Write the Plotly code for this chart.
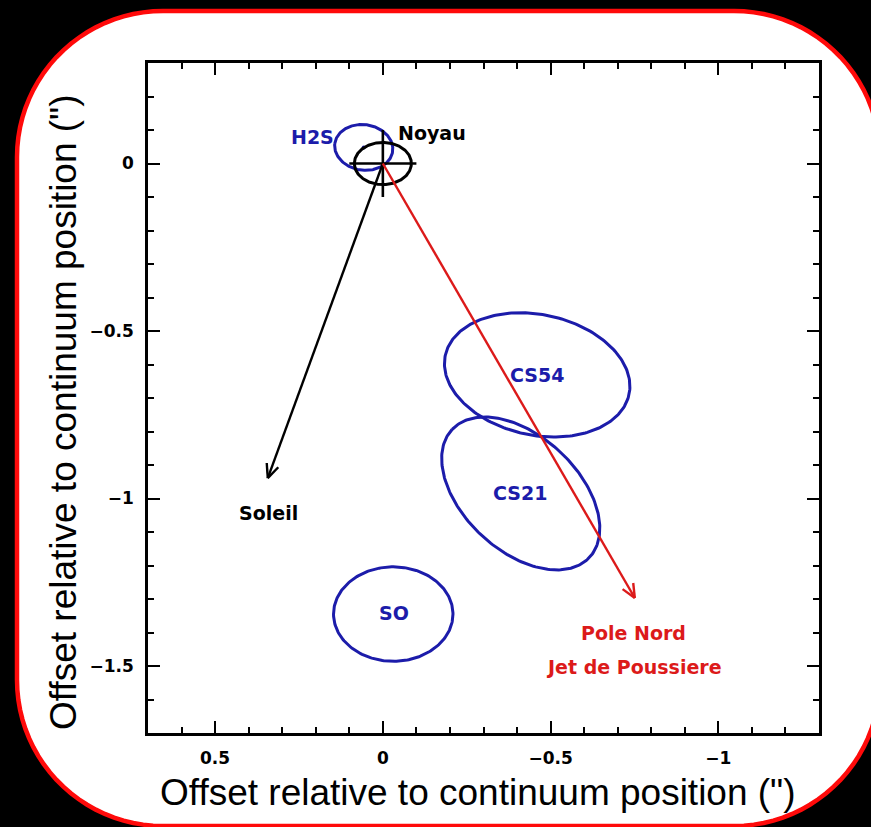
import numpy as np
import plotly.graph_objects as go

# ---- data -------------------------------------------------------------
# emission regions (offsets in arcsec): centre, semi-axes, position angle (deg)
region_names = ["H2S", "CS54", "CS21", "SO"]
region_x = [0.057, -0.46, -0.411, -0.031]
region_y = [0.048, -0.631, -0.985, -1.345]
region_a = [0.087, 0.28, 0.28, 0.178]
region_b = [0.068, 0.18, 0.171, 0.141]
region_pa = [8, 12, 43, 0]
region_label_x = [0.209, -0.459, -0.408, -0.033]
region_label_y = [0.079, -0.631, -0.984, -1.342]

# nucleus (continuum position) with its beam
nucleus_x, nucleus_y = 0.0, 0.0
nucleus_a, nucleus_b = 0.085, 0.063
cross_half = 0.1

# direction arrows from the nucleus
sun_tip = (0.343, -0.939)
pole_tip = (-0.751, -1.297)

# axes
x_range = [0.7, -1.3]
y_range = [-1.7, 0.3]
x_ticks = [0.5, 0, -0.5, -1]
y_ticks = [0, -0.5, -1, -1.5]

BLUE = "#1c1caa"
RED = "#dc1a1a"
BLACK = "#000000"

W, H = 871, 827
ML, MR, MT, MB = 148, 52, 63, 94
PW, PH = W - ML - MR, H - MT - MB


def ellipse(cx, cy, a, b, pa, n=241):
    t = np.linspace(0, 2 * np.pi, n)
    th = np.radians(pa)
    x = cx + a * np.cos(t) * np.cos(th) - b * np.sin(t) * np.sin(th)
    y = cy + a * np.cos(t) * np.sin(th) + b * np.sin(t) * np.cos(th)
    return x, y


def arrow_head(x0, y0, x1, y1, length=0.045, spread=24):
    ang = np.arctan2(y0 - y1, x0 - x1)
    xs, ys = [], []
    for s in (-1, 1):
        a = ang + s * np.radians(spread)
        xs += [x1 + length * np.cos(a), x1, None]
        ys += [y1 + length * np.sin(a), y1, None]
    return xs, ys


def px_to_paper(px, py):
    return (px - ML) / PW, (H - MB - py) / PH


fig = go.Figure()

# emission region outlines
for name, cx, cy, a, b, pa in zip(region_names, region_x, region_y,
                                  region_a, region_b, region_pa):
    ex, ey = ellipse(cx, cy, a, b, pa)
    fig.add_trace(go.Scatter(x=ex, y=ey, mode="lines",
                             line=dict(color=BLUE, width=3),
                             hoverinfo="skip", showlegend=False))

# H2S peak
fig.add_trace(go.Scatter(x=[region_x[0]], y=[region_y[0]], mode="markers",
                         marker=dict(color=BLUE, size=4),
                         hoverinfo="skip", showlegend=False))

# nucleus beam and cross
ex, ey = ellipse(nucleus_x, nucleus_y, nucleus_a, nucleus_b, 0)
fig.add_trace(go.Scatter(x=ex, y=ey, mode="lines",
                         line=dict(color=BLACK, width=3),
                         hoverinfo="skip", showlegend=False))
fig.add_trace(go.Scatter(
    x=[nucleus_x - cross_half, nucleus_x + cross_half, None, nucleus_x, nucleus_x],
    y=[nucleus_y, nucleus_y, None, nucleus_y - cross_half, nucleus_y + cross_half],
    mode="lines", line=dict(color=BLACK, width=2.6),
    hoverinfo="skip", showlegend=False))

# arrows
for tip, col in ((sun_tip, BLACK), (pole_tip, RED)):
    fig.add_trace(go.Scatter(x=[nucleus_x, tip[0]], y=[nucleus_y, tip[1]],
                             mode="lines", line=dict(color=col, width=2.4),
                             hoverinfo="skip", showlegend=False))
    hx, hy = arrow_head(nucleus_x, nucleus_y, tip[0], tip[1])
    fig.add_trace(go.Scatter(x=hx, y=hy, mode="lines",
                             line=dict(color=col, width=2.4),
                             hoverinfo="skip", showlegend=False))

label_font = dict(family="DejaVu Sans", size=19, weight="bold")

annotations = []
for name, lx, ly in zip(region_names, region_label_x, region_label_y):
    annotations.append(dict(x=lx, y=ly, xref="x", yref="y", text=name,
                            showarrow=False, font=dict(color=BLUE, **label_font)))
annotations += [
    dict(x=-0.146, y=0.091, xref="x", yref="y", text="Noyau", showarrow=False,
         font=dict(color=BLACK, **label_font)),
    dict(x=0.340, y=-1.043, xref="x", yref="y", text="Soleil", showarrow=False,
         font=dict(color=BLACK, **label_font)),
    dict(x=-0.748, y=-1.401, xref="x", yref="y", text="Pole Nord", showarrow=False,
         font=dict(color=RED, **label_font)),
    dict(x=-0.748, y=-1.503, xref="x", yref="y", text="Jet de Poussiere",
         showarrow=False, font=dict(color=RED, **label_font)),
]

title_font = dict(family="Liberation Sans, Arial, sans-serif", size=37, color=BLACK)
tx, ty = px_to_paper(477.5, 792)
annotations.append(dict(x=tx, y=ty, xref="paper", yref="paper",
                        text="Offset relative to continuum position (\")",
                        showarrow=False, font=title_font,
                        xanchor="center", yanchor="middle"))
tx, ty = px_to_paper(63, 412)
annotations.append(dict(x=tx, y=ty, xref="paper", yref="paper",
                        text="Offset relative to continuum position (\")",
                        showarrow=False, font=title_font, textangle=-90,
                        xanchor="center", yanchor="middle"))

# white rounded panel with red border behind the plot
x0, x1, y0, y1, R = 17, 880, 11, 826, 146
pts = []
for (cx, cy, a0) in ((x1 - R, y0 + R, -90), (x1 - R, y1 - R, 0),
                     (x0 + R, y1 - R, 90), (x0 + R, y0 + R, 180)):
    for ang in np.radians(np.linspace(a0, a0 + 90, 24)):
        pts.append(px_to_paper(cx + R * np.cos(ang), cy + R * np.sin(ang)))
path = "M " + " L ".join(f"{p[0]:.5f},{p[1]:.5f}" for p in pts) + " Z"

tick_font = dict(family="DejaVu Sans", size=17, weight="bold", color=BLACK)
axis_common = dict(
    showgrid=False, zeroline=False, showline=True, linecolor=BLACK,
    linewidth=2.5, mirror="ticks", ticks="inside", ticklen=12, tickwidth=2,
    tickcolor=BLACK, tickfont=tick_font, ticklabelstandoff=8,
    minor=dict(ticks="inside", ticklen=6, tickwidth=2, tickcolor=BLACK,
               tickmode="linear", tick0=0, dtick=0.1, showgrid=False),
)

fig.update_layout(
    width=W, height=H,
    margin=dict(l=ML, r=MR, t=MT, b=MB),
    paper_bgcolor="black", plot_bgcolor="white",
    xaxis=dict(range=x_range, tickmode="array", tickvals=x_ticks, **axis_common),
    yaxis=dict(range=y_range, tickmode="array", tickvals=y_ticks, **axis_common),
    shapes=[dict(type="path", xref="paper", yref="paper", path=path,
                 fillcolor="white", line=dict(color="#ff0a0a", width=4.5),
                 layer="below")],
    annotations=annotations,
    showlegend=False,
)

fig.write_html("out.html")
